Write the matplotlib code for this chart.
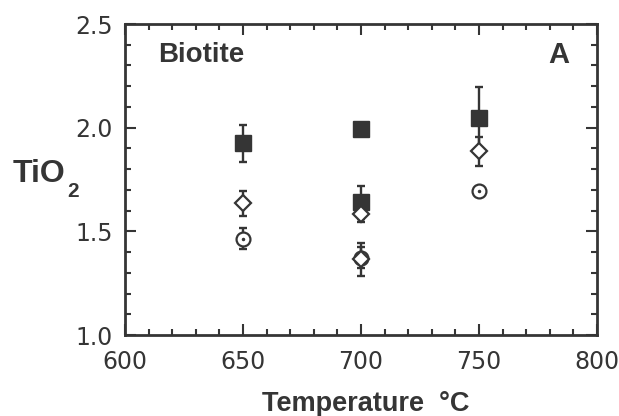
import matplotlib
matplotlib.use("Agg")
import matplotlib.pyplot as plt
from matplotlib.ticker import MultipleLocator, FormatStrFormatter

plt.rcParams['font.family'] = ['DejaVu Sans']

# Data (TiO2 in biotite vs temperature)
sq_T = [650, 700, 700, 750]
sq_v = [1.925, 1.992, 1.64, 2.048]
sq_e = [0.09, 0.0, 0.08, 0.15]

dia_T = [650, 700, 700, 750]
dia_v = [1.635, 1.585, 1.365, 1.886]
dia_e = [0.06, 0.04, 0.08, 0.07]

cir_T = [650, 700, 750]
cir_v = [1.465, 1.373, 1.695]
cir_e = [0.05, 0.05, 0.0]

ink = '#353535'
bold = ['Liberation Sans', 'DejaVu Sans']

fig = plt.figure(figsize=(6.19, 4.16), dpi=100)
ax = fig.add_axes([0.2019, 0.1947, 0.7625, 0.7476])

ebkw = dict(fmt='none', ecolor=ink, elinewidth=1.7, capsize=3, capthick=1.7, zorder=2)

ax.errorbar(cir_T, cir_v, yerr=cir_e, **ebkw)
ax.plot(cir_T, cir_v, 'o', ms=10, mfc='white', mec=ink, mew=1.6, zorder=3)
ax.plot(cir_T, cir_v, 'o', ms=1.5, color=ink, zorder=4)

ax.errorbar(sq_T, sq_v, yerr=sq_e, **ebkw)
ax.plot(sq_T, sq_v, 's', ms=11, color=ink, zorder=5)

ax.errorbar(dia_T, dia_v, yerr=dia_e, **ebkw)
ax.plot(dia_T, dia_v, 'D', ms=8.3, mfc='white', mec=ink, mew=1.6, zorder=6)

ax.set_xlim(600, 800)
ax.set_ylim(1.0, 2.5)
ax.xaxis.set_major_locator(MultipleLocator(50))
ax.xaxis.set_minor_locator(MultipleLocator(10))
ax.yaxis.set_major_locator(MultipleLocator(0.5))
ax.yaxis.set_minor_locator(MultipleLocator(0.1))
ax.yaxis.set_major_formatter(FormatStrFormatter('%.1f'))

ax.tick_params(which='both', direction='in', top=True, right=True,
               color=ink, width=1.5, labelsize=17, labelcolor=ink)
ax.tick_params(which='major', length=8)
ax.tick_params(which='minor', length=4)
ax.tick_params(axis='x', which='major', pad=11)
ax.tick_params(axis='y', which='major', pad=9)
for s in ax.spines.values():
    s.set_linewidth(2)
    s.set_color(ink)

fig.text(0.591, 0.029, 'Temperature  °C', fontsize=19.5, fontweight='bold',
         family=bold, color=ink, ha='center', va='center')
fig.text(0.021, 0.5625, 'TiO', fontsize=23, fontweight='bold', family=bold,
         color=ink, ha='left', va='baseline')
fig.text(0.108, 0.527, '2', fontsize=15, fontweight='bold', family=bold,
         color=ink, ha='left', va='baseline')

ax.text(0.07, 0.90, 'Biotite', transform=ax.transAxes, fontsize=20,
        fontweight='bold', family=bold, color=ink, va='center', ha='left')
ax.text(0.942, 0.90, 'A', transform=ax.transAxes, fontsize=21,
        fontweight='bold', family=bold, color=ink, va='center', ha='right')

fig.savefig('out.png', dpi=100)
